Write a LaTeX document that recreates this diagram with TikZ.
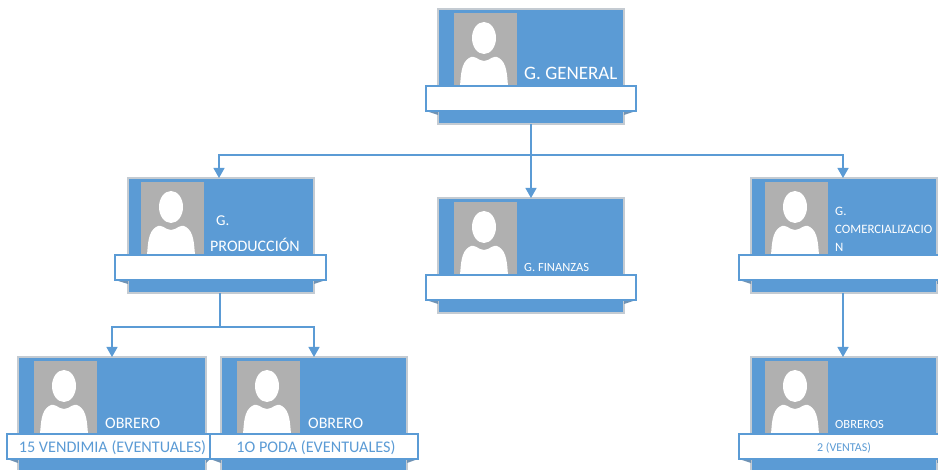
\documentclass[tikz,border=0pt]{standalone}
\usepackage{fontspec}
\setmainfont{Carlito}
\usetikzlibrary{arrows.meta}
\definecolor{cardblue}{HTML}{5B9BD5}
\definecolor{photogrey}{HTML}{B0B0B0}
\definecolor{edgegrey}{HTML}{C4CBD2}
\definecolor{folddark}{HTML}{6F93B5}
\tikzset{
  cardbody/.style={draw=edgegrey,line width=1.2pt,fill=cardblue,inner sep=0pt,outer sep=0pt,anchor=north west,minimum height=115pt},
  photo/.style={fill=photogrey},
  ribbon/.style={draw=cardblue,line width=1.1pt,fill=white,inner sep=0pt,outer sep=0pt,anchor=north west,minimum height=25pt},
  fold/.style={fill=folddark},
  title/.style={text=white,inner sep=0pt,anchor=west,font=\fontsize{#1}{#1}\selectfont},
  title/.default=15,
  ribbontext/.style={text=cardblue,inner sep=0pt,font=\fontsize{#1}{#1}\selectfont},
  conn/.style={draw=cardblue,line width=1.3pt},
  arr/.style={conn,-{Triangle[length=10pt,width=11pt]}}
}
% name, x, y, card width, ribbon left offset, ribbon width, photo offset
\newcommand{\orgcard}[7]{%
  \node[cardbody,minimum width=#4pt] (#1) at (#2,#3) {};
  \begin{scope}[shift={(#2,#3)}]
    \fill[fold] (#5,102) -- (0,102) -- (0,106) -- cycle;
    \fill[fold] (#4,102) -- (#5+#6,102) -- (#4,106) -- cycle;
    \begin{scope}[shift={(#7,0)}]
    \fill[photo] (0,4) rectangle (63,77);
    \fill[white] (30,29) ellipse (12 and 16);
    \fill[white] (6,77) .. controls (7,66) and (7,54) .. (15,49)
       .. controls (21,45) and (24,52) .. (30,52)
       .. controls (36,52) and (39,45) .. (45,49)
       .. controls (53,54) and (53,66) .. (54,77) -- cycle;
    \end{scope}
  \end{scope}
  \node[ribbon,minimum width=#6pt] (#1rib) at (#2+#5,#3+77) {};
}
\begin{document}
\begin{tikzpicture}[x=1pt,y=-1pt]
\useasboundingbox (0,0) rectangle (938,470);
\clip (0,0) rectangle (938,470);
\fill[white] (0,0) rectangle (938,470);
\orgcard{gen}{438}{9}{186}{-12}{210}{16}
\orgcard{prod}{128}{178}{186}{-13}{211}{13}
\orgcard{fin}{438}{198}{186}{-12}{210}{16}
\orgcard{com}{751}{178}{186}{-12}{210}{14}
\orgcard{obra}{18}{357}{188}{-11}{203}{16}
\orgcard{obrb}{221}{357}{186}{-11}{208}{16}
\orgcard{obrc}{751}{357}{186}{-12}{210}{14}

\coordinate (split) at (531,155);
\coordinate (splitb) at (220,327);
\draw[arr] (gen.south) -- (fin.north);
\draw[arr] (split) -| ([xshift=-2pt]prod.north);
\draw[arr] (split) -| ([xshift=-1pt]com.north);
\draw[conn] ([xshift=-1pt]prod.south) -- (splitb);
\draw[arr] (splitb) -| (obra.north);
\draw[arr] (splitb) -| (obrb.north);
\draw[arr] ([xshift=-1pt]com.south) -- ([xshift=-1pt]obrc.north);

\node[title=19] (tgen) at (524,73) {G. GENERAL};
\node[title=15] (tprod1) at (216,221) {G.};
\node[title=16] (tprod2) at (210,245) {PRODUCCIÓN};
\node[title=12.5] (tfin) at (524,267) {G. FINANZAS};
\node[title=12.8] (tcom1) at (835,211) {G.};
\node[title=12.8] (tcom2) at (835,229) {COMERCIALIZACIO};
\node[title=12.8] (tcom3) at (835,247) {N};
\node[title=16] (tobra) at (105,423) {OBRERO};
\node[title=16] (tobrb) at (308,423) {OBRERO};
\node[title=12.5] (tobrc) at (835,424) {OBREROS};
\node[ribbontext=16.2] (ra) at ([xshift=4pt,yshift=-1pt]obrarib.center) {15 VENDIMIA (EVENTUALES)};
\node[ribbontext=16.2] (rb) at ([xshift=2pt,yshift=-1pt]obrbrib.center) {1O PODA (EVENTUALES)};
\node[ribbontext=12] (rc) at ([yshift=-1pt]obrcrib.center) {2 (VENTAS)};
\end{tikzpicture}
\end{document}
